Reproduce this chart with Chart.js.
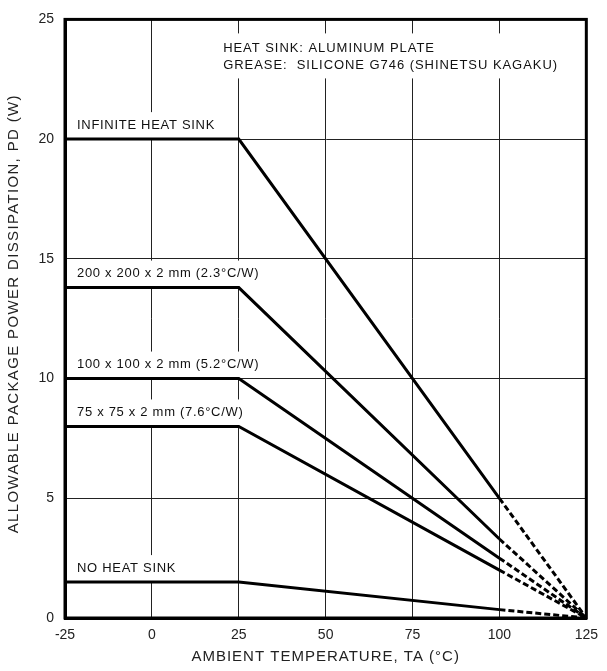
<!DOCTYPE html>
<html>
<head>
<meta charset="utf-8">
<script src="https://cdn.jsdelivr.net/npm/chart.js@4.4.1/dist/chart.umd.min.js"></script>
<style>
  html, body { margin: 0; padding: 0; background: #fff; }
  #wrap { width: 607px; height: 671px; }
</style>
</head>
<body>
<div id="wrap"><canvas id="deratingChart"></canvas></div>
<script>
// Derating curve - allowable package power dissipation vs ambient temperature

const ambientTemps = [-25, 25, 100, 125];
const infiniteSink = [20, 20, 5, 0];
const plate200 = [13.8, 13.8, 3.3, 0];
const plate100 = [10, 10, 2.5, 0];
const plate75 = [8, 8, 2, 0];
const noSink = [1.5, 1.5, 0.35, 0];

const curveLabels = [
    'INFINITE HEAT SINK',
    '200 x 200 x 2 mm (2.3°C/W)',
    '100 x 100 x 2 mm (5.2°C/W)',
    '75 x 75 x 2 mm (7.6°C/W)',
    'NO HEAT SINK'
];
const noteLines = [
    'HEAT SINK: ALUMINUM PLATE',
    'GREASE:  SILICONE G746 (SHINETSU KAGAKU)'
];
const xTitle = 'AMBIENT TEMPERATURE, TA (°C)';
const yTitle = 'ALLOWABLE PACKAGE POWER DISSIPATION, PD (W)';

const xTicks = [-25, 0, 25, 50, 75, 100, 125];
const yTicks = [0, 5, 10, 15, 20, 25];

const allSeries = [infiniteSink, plate200, plate100, plate75, noSink];

function toPoints(values) {
    return values.map((v, i) => ({ x: ambientTemps[i], y: v }));
}

// --- labels on the curves + heat sink note, with white boxes cutting the grid ---
const labelPlugin = {
    id: 'curveLabels',
    beforeDatasetsDraw(chart) {
        const { ctx, scales: { x, y }, chartArea } = chart;
        ctx.save();
        ctx.font = '13px "Liberation Sans", Arial, sans-serif';
        ctx.letterSpacing = '0.7px';
        ctx.textBaseline = 'middle';
        ctx.textAlign = 'left';

        const left = x.getPixelForValue(-25) + 12;
        allSeries.forEach((vals, i) => {
            const lineY = y.getPixelForValue(vals[0]);
            const textY = lineY - 14;
            const w = ctx.measureText(curveLabels[i]).width;
            ctx.fillStyle = '#fff';
            ctx.fillRect(chartArea.left + 2, textY - 13, w + 16, lineY - (textY - 13) - 1);
            ctx.fillStyle = '#111';
            ctx.fillText(curveLabels[i], left, textY);
        });

        // note in the top corner
        ctx.font = '13px "Liberation Sans", Arial, sans-serif';
        ctx.letterSpacing = '0.95px';
        const noteX = x.getPixelForValue(20.5);
        const noteW = Math.max(...noteLines.map(t => ctx.measureText(t).width));
        ctx.fillStyle = '#fff';
        ctx.fillRect(noteX - 6, chartArea.top + 14, noteW + 12, 45);
        ctx.fillStyle = '#111';
        noteLines.forEach((t, i) => {
            ctx.fillText(t, noteX, chartArea.top + 29 + i * 17);
        });
        ctx.restore();
    },
    afterDraw(chart) {
        const { ctx, chartArea } = chart;
        ctx.save();
        ctx.strokeStyle = '#000';
        ctx.lineWidth = 3;
        ctx.strokeRect(chartArea.left, chartArea.top, chartArea.right - chartArea.left, chartArea.bottom - chartArea.top);

        // axis titles (letter-spaced like the original)
        ctx.fillStyle = '#222';
        ctx.textAlign = 'center';
        ctx.textBaseline = 'middle';
        ctx.font = '15px "Liberation Sans", Arial, sans-serif';
        ctx.letterSpacing = '1px';
        ctx.fillText(xTitle, (chartArea.left + chartArea.right) / 2, chart.height - 14);

        ctx.letterSpacing = '1.35px';
        ctx.translate(14, (chartArea.top + chartArea.bottom) / 2 - 5);
        ctx.rotate(-Math.PI / 2);
        ctx.fillText(yTitle, 0, 0);
        ctx.restore();
    }
};

const ctx = document.getElementById('deratingChart').getContext('2d');

const datasets = allSeries.map((vals, i) => ({
    label: curveLabels[i],
    data: toPoints(vals),
    borderColor: '#000',
    borderWidth: 3,
    pointRadius: 0,
    fill: false,
    tension: 0,
    segment: {
        borderDash: c => c.p0.parsed.x >= 100 ? [6, 3] : undefined
    }
}));

new Chart(ctx, {
    type: 'line',
    data: { datasets: datasets },
    options: {
        responsive: true,
        maintainAspectRatio: false,
        animation: false,
        layout: { padding: { left: 0, top: 11, right: 19, bottom: 0 } },
        plugins: {
            legend: { display: false },
            tooltip: { enabled: false }
        },
        scales: {
            x: {
                type: 'linear',
                min: -25,
                max: 125,
                afterBuildTicks: s => { s.ticks = xTicks.map(v => ({ value: v })); },
                afterFit: s => { s.height = 53; },
                grid: { color: '#222', lineWidth: 1, drawTicks: false },
                border: { color: '#000', width: 3 },
                ticks: {
                    color: '#222',
                    padding: 9,
                    font: { family: '"Liberation Sans", Arial, sans-serif', size: 14 }
                },
                title: { display: false }
            },
            y: {
                type: 'linear',
                min: 0,
                max: 25,
                afterBuildTicks: s => { s.ticks = yTicks.map(v => ({ value: v })); },
                afterFit: s => { s.width = 65; },
                grid: { color: '#222', lineWidth: 1, drawTicks: false },
                border: { color: '#000', width: 3 },
                ticks: {
                    color: '#222',
                    padding: 11,
                    font: { family: '"Liberation Sans", Arial, sans-serif', size: 14 }
                },
                title: { display: false }
            }
        }
    },
    plugins: [labelPlugin]
});
</script>
</body>
</html>
